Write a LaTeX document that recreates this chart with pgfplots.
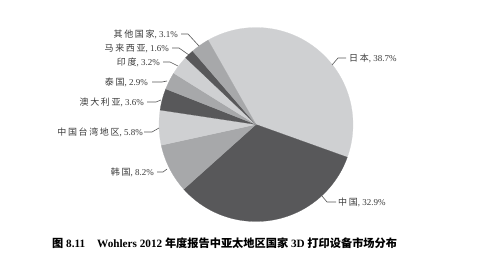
\documentclass[border=0pt]{standalone}
\usepackage{pgfplots}
\pgfplotsset{compat=1.18}
\usepackage{pgfplotstable}
\usepackage{fontspec}
\setmainfont{Liberation Serif}
\newfontfamily\cjk{Noto Sans CJK SC}[LetterSpace=18]
\newfontfamily\cjkcap{Noto Sans CJK SC}
\definecolor{lightg}{HTML}{CFD0D2}
\definecolor{medg}{HTML}{A7A8AA}
\definecolor{darkg}{HTML}{58585A}
\definecolor{txt}{HTML}{3A3A3A}
\colorlet{slc0}{lightg}
\colorlet{slc1}{darkg}
\colorlet{slc2}{medg}
\colorlet{slc3}{lightg}
\colorlet{slc4}{darkg}
\colorlet{slc5}{medg}
\colorlet{slc6}{lightg}
\colorlet{slc7}{darkg}
\colorlet{slc8}{medg}
\tikzset{
  lbl/.style={font=\fontsize{9}{10}\selectfont, text=txt, inner sep=0pt},
  ld/.style={draw=txt!85, line width=0.6pt},
}

% market share (%), clockwise from the Japan slice
\pgfplotstableread{
name value
Japan 38.7
China 32.9
Korea 8.2
Taiwan 5.8
Australia 3.6
Thailand 2.9
India 3.2
Malaysia 1.6
Other 3.1
}\piedata

\xdef\acc{119.6}
\foreach \i in {0,...,8}{%
  \pgfplotstablegetelem{\i}{value}\of\piedata
  \pgfmathsetmacro\st{\acc}%
  \pgfmathsetmacro\en{\acc-3.6*\pgfplotsretval}%
  \expandafter\xdef\csname s\i\endcsname{\st}%
  \expandafter\xdef\csname e\i\endcsname{\en}%
  \xdef\acc{\en}%
}

\begin{document}
\begin{tikzpicture}
\begin{axis}[
  name=ax,
  scale only axis, width=489pt, height=259pt,
  xmin=0, xmax=489, ymin=0, ymax=259, y dir=reverse,
  hide axis, clip=false,
]
\pgfplotsinvokeforeach{0,...,8}{
  \addplot[draw=slc#1, line width=0.2pt, fill=slc#1, domain=\csname e#1\endcsname:\csname s#1\endcsname, samples=80]
    ({256+97*cos(x)},{124.5-97*sin(x)}) -- (axis cs:256,124.5) -- cycle;
}
% labels and leader lines
\draw[ld] (axis cs:181,34) -- (axis cs:188,34) -- (axis cs:199,46);
\node[lbl, anchor=east] at (axis cs:178,34) {{\cjk 其他国家}, 3.1\%};
\draw[ld] (axis cs:172,48) -- (axis cs:179,48) -- (axis cs:189,55);
\node[lbl, anchor=east] at (axis cs:169,48) {{\cjk 马来西亚}, 1.6\%};
\draw[ld] (axis cs:163,62) -- (axis cs:170,62) -- (axis cs:178,66);
\node[lbl, anchor=east] at (axis cs:160,62) {{\cjk 印度}, 3.2\%};
\draw[ld] (axis cs:152,82) -- (axis cs:162,82) -- (axis cs:167,81);
\node[lbl, anchor=east] at (axis cs:148,82) {{\cjk 泰国}, 2.9\%};
\draw[ld] (axis cs:147,102) -- (axis cs:156,102) -- (axis cs:161,100);
\node[lbl, anchor=east] at (axis cs:144,102) {{\cjk 澳大利亚}, 3.6\%};
\draw[ld] (axis cs:144,132) -- (axis cs:152,132) -- (axis cs:159,128);
\node[lbl, anchor=east] at (axis cs:143,132) {{\cjk 中国台湾地区}, 5.8\%};
\draw[ld] (axis cs:157,172) -- (axis cs:163,172) -- (axis cs:167,169);
\node[lbl, anchor=east] at (axis cs:154,172) {{\cjk 韩国}, 8.2\%};
\draw[ld] (axis cs:332,65) -- (axis cs:338,58) -- (axis cs:346,58);
\node[lbl, anchor=west] at (axis cs:349,58) {{\cjk 日本}, 38.7\%};
\draw[ld] (axis cs:322,196) -- (axis cs:327,202) -- (axis cs:336,202);
\node[lbl, anchor=west] at (axis cs:338,202) {{\cjk 中国}, 32.9\%};
% caption
\node[anchor=west, inner sep=0pt, font=\fontsize{11.2}{12}\selectfont\bfseries] at (axis cs:52,243)
  {{\cjkcap\bfseries 图} 8.11\hspace{12pt}Wohlers 2012 {\cjkcap\bfseries 年度报告中亚太地区国家} 3D {\cjkcap\bfseries 打印设备市场分布}};
\end{axis}
\pgfresetboundingbox
\path (ax.south west) rectangle (ax.north east);
\end{tikzpicture}
\end{document}
